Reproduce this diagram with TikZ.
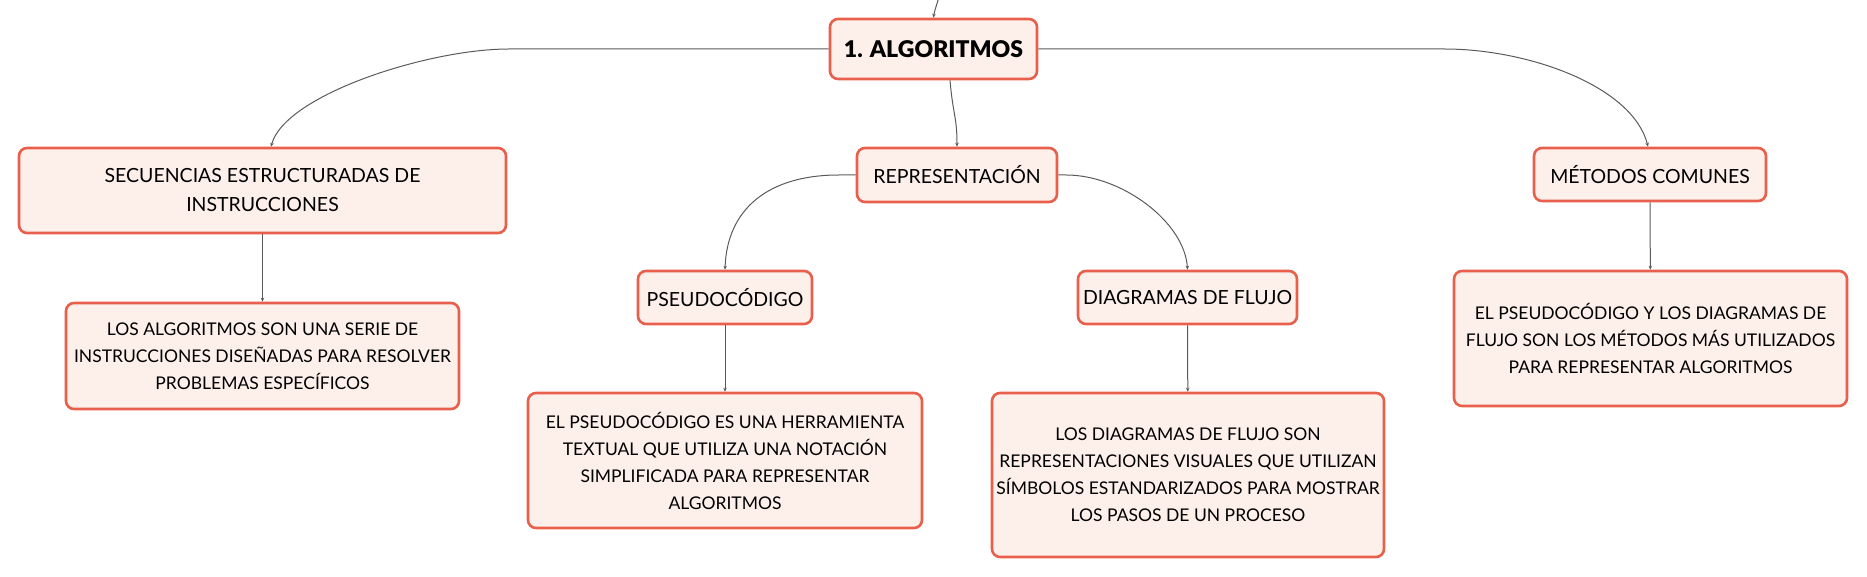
\documentclass[tikz,border=0pt]{standalone}
\usepackage{fontspec}
\setmainfont{Lato}
\newfontfamily\heavyfont{Lato Black}
\usetikzlibrary{arrows.meta}

\definecolor{boxline}{HTML}{E8604C}
\definecolor{boxfill}{HTML}{FDEFEA}
\definecolor{linkgray}{HTML}{5A5A5A}

\tikzset{
  box/.style={draw=boxline, fill=boxfill, line width=2.6pt, rounded corners=8pt, align=center, inner sep=0pt, text=black},
  topic/.style={box, font=\heavyfont\fontsize{23}{28}\selectfont},
  subtopic/.style={box, font=\fontsize{19.5}{29}\selectfont},
  leaf/.style={box, font=\fontsize{17.5}{27}\selectfont},
  link/.style={draw=linkgray, line width=1pt, -{Stealth[length=4pt,width=3.5pt]}}
}

\begin{document}
\begin{tikzpicture}[x=1pt, y=-1pt]
	\useasboundingbox (0,0) rectangle (1867,577);

	% main topic
	\node[topic, minimum width=207, minimum height=60] (alg) at (933.5,49) {1. ALGORITMOS};
	\coordinate (up) at (941,-12);

	% first level
	\node[subtopic, minimum width=487, minimum height=85] (seq) at (262.5,190.5) {SECUENCIAS ESTRUCTURADAS DE\\INSTRUCCIONES};
	\node[subtopic, minimum width=200, minimum height=54] (rep) at (957,175) {REPRESENTACIÓN};
	\node[subtopic, minimum width=232, minimum height=53] (met) at (1650,174.5) {MÉTODOS COMUNES};

	% second level
	\node[subtopic, minimum width=174, minimum height=53] (pseudo) at (725,297.5) {PSEUDOCÓDIGO};
	\node[subtopic, minimum width=219, minimum height=53] (diag) at (1187.5,297.5) {DIAGRAMAS DE FLUJO};

	% leaves
	\node[leaf, minimum width=393, minimum height=106] (seqtxt) at (262.5,356)
	  {LOS ALGORITMOS SON UNA SERIE DE\\INSTRUCCIONES DISEÑADAS PARA RESOLVER\\PROBLEMAS ESPECÍFICOS};
	\node[leaf, minimum width=394, minimum height=135] (pseudotxt) at (725,460.5)
	  {EL PSEUDOCÓDIGO ES UNA HERRAMIENTA\\TEXTUAL QUE UTILIZA UNA NOTACIÓN\\SIMPLIFICADA PARA REPRESENTAR\\ALGORITMOS};
	\node[leaf, minimum width=392, minimum height=164] (diagtxt) at (1188,475)
	  {LOS DIAGRAMAS DE FLUJO SON\\REPRESENTACIONES VISUALES QUE UTILIZAN\\SÍMBOLOS ESTANDARIZADOS PARA MOSTRAR\\LOS PASOS DE UN PROCESO};
	\node[leaf, minimum width=393, minimum height=135] (mettxt) at (1650.5,338.5)
	  {EL PSEUDOCÓDIGO Y LOS DIAGRAMAS DE\\FLUJO SON LOS MÉTODOS MÁS UTILIZADOS\\PARA REPRESENTAR ALGORITMOS};

	% connectors
	\draw[link] (up) .. controls +(-1,8) and +(1,-8) .. (alg.north);
	\draw[link] (alg.west) -- ++(-320,0) .. controls +(-80,0) and +(14,-52) .. ([xshift=8.5pt]seq.north);
	\draw[link] (alg.east) -- ++(406,0) .. controls +(85,0) and +(-15,-60) .. ([xshift=-2pt]met.north);
	\draw[link] ([xshift=16.5pt]alg.south) .. controls +(3,35) and +(0,-30) .. (rep.north);
	\draw[link] (rep.west) -- ++(-17,0) .. controls +(-70,0) and +(2,-61) .. (pseudo.north);
	\draw[link] (rep.east) -- ++(8,0) .. controls +(55,0) and +(-3,-48) .. (diag.north);
	\draw[link] (seq) -- (seqtxt);
	\draw[link] (pseudo) -- (pseudotxt);
	\draw[link] (diag) -- (diagtxt);
	\draw[link] (met) -- (mettxt);
\end{tikzpicture}
\end{document}
